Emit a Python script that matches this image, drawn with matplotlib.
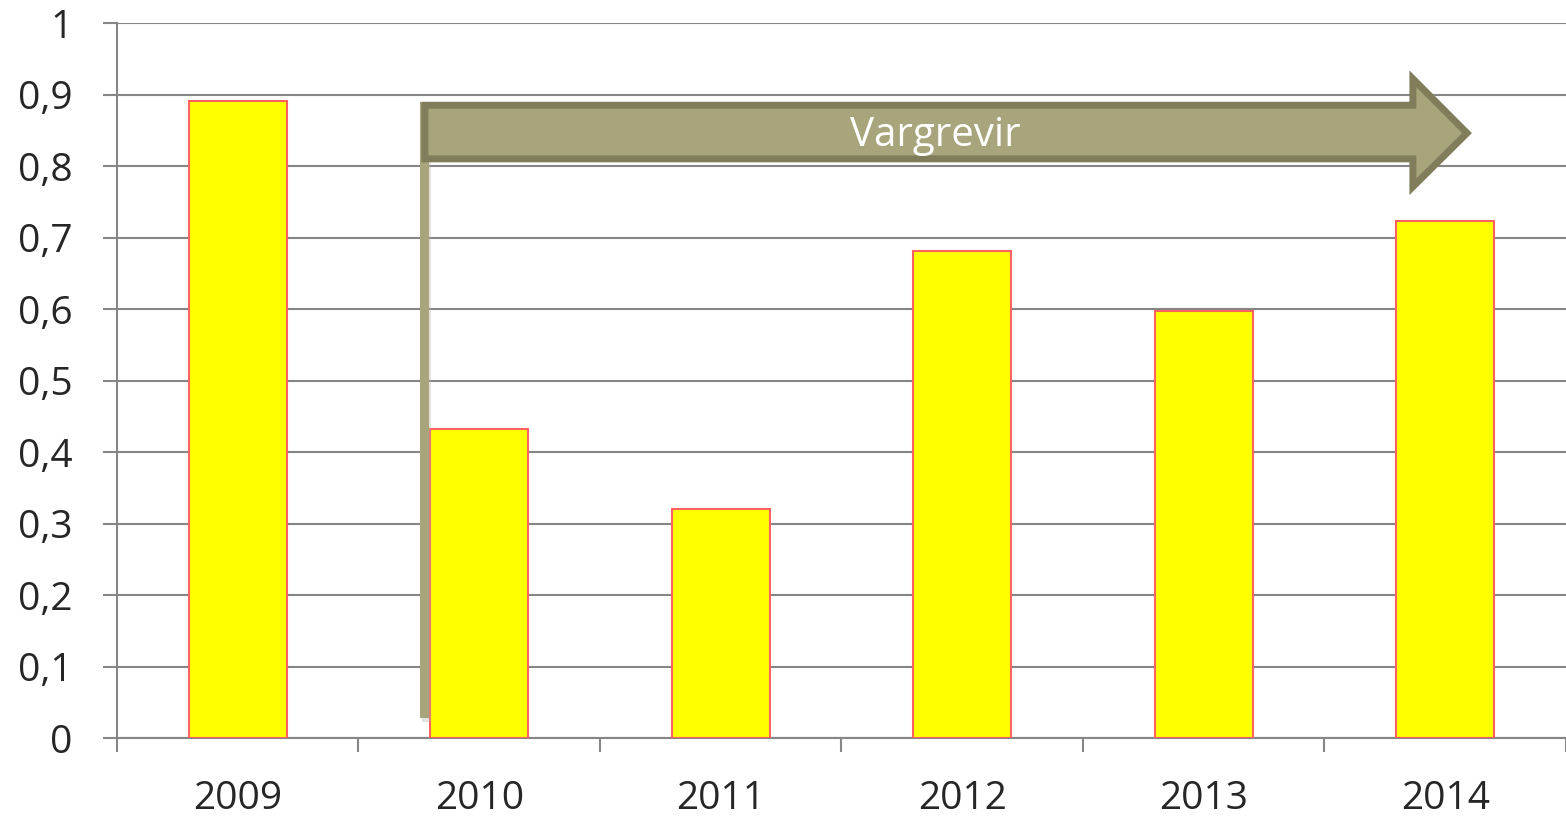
import matplotlib.pyplot as plt
from matplotlib.patches import Polygon, Rectangle

# data
years = ['2009', '2010', '2011', '2012', '2013', '2014']
values = [0.891, 0.432, 0.320, 0.681, 0.597, 0.723]
y_ticks = [0, 0.1, 0.2, 0.3, 0.4, 0.5, 0.6, 0.7, 0.8, 0.9, 1]
y_labels = ['0', '0,1', '0,2', '0,3', '0,4', '0,5', '0,6', '0,7', '0,8', '0,9', '1']

plt.rcParams['font.family'] = ['Open Sans', 'DejaVu Sans']
grid_col = '#868686'
txt_col = '#262626'

fig = plt.figure(figsize=(15.66, 8.19), dpi=100)
ax = fig.add_axes([0.0747, 0.0989, 0.9253, 0.873])

x = range(len(years))
ax.bar(x, values, width=0.405, color='#ffff00', edgecolor='#ff6060', linewidth=1.5, zorder=3)

ax.set_xlim(-0.5, 5.5)
ax.set_ylim(0, 1)
ax.set_yticks(y_ticks)
ax.set_yticklabels(y_labels, fontsize=28, color=txt_col)
ax.set_xticks([i + 0.5 for i in range(-1, 6)], minor=False)
ax.set_xticklabels([])
ax.set_xticks(list(x), minor=True)
ax.set_xticklabels(years, minor=True, fontsize=28, color=txt_col)
ax.tick_params(axis='x', which='major', length=10, width=1.5, color=grid_col, direction='out')
ax.tick_params(axis='x', which='minor', length=0, pad=30)
ax.tick_params(axis='y', length=10, width=1.5, color=grid_col, pad=22)
ax.grid(axis='y', color=grid_col, linewidth=1.5, zorder=0)
for s in ['top', 'right']:
    ax.spines[s].set_visible(False)
for s in ['left', 'bottom']:
    ax.spines[s].set_color(grid_col)
    ax.spines[s].set_linewidth(1.5)

# annotation arrow "Vargrevir"
face = '#a8a57c'
edge = '#7f7d5a'
ax.add_patch(Rectangle((0.765, 0.022), 0.035, 0.86, facecolor='#b0b0b0', edgecolor='none', alpha=0.35, zorder=4))
ax.add_patch(Rectangle((0.755, 0.028), 0.035, 0.862, facecolor=face, edgecolor='none', zorder=5))
arrow = [(0.775, 0.885), (4.866, 0.885), (4.866, 0.922), (5.09, 0.846),
         (4.866, 0.771), (4.866, 0.810), (0.775, 0.810)]
ax.add_patch(Polygon(arrow, closed=True, facecolor=face, edgecolor=edge, linewidth=5, joinstyle='miter', zorder=5))
ax.text(2.887, 0.843, 'Vargrevir', color='white', fontsize=29, ha='center', va='center', zorder=6)

fig.savefig('out.png', dpi=100)
